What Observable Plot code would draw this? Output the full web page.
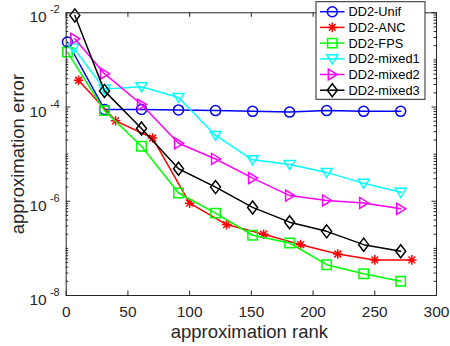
<!DOCTYPE html>
<html><head><meta charset="utf-8">
<script src="https://cdn.jsdelivr.net/npm/d3@7"></script>
<script src="https://cdn.jsdelivr.net/npm/@observablehq/plot@0.6"></script>
<style>
html,body{margin:0;padding:0;background:#fff;}
#chart{width:450px;height:346px;}
</style></head><body><div id="chart"></div>
<script>
const seriesNames = ["DD2-Unif","DD2-ANC","DD2-FPS","DD2-mixed1","DD2-mixed2","DD2-mixed3"];
const seriesColors = ["#0000ff","#ff0000","#00ff00","#00ffff","#ff00ff","#000000"];

const rankUnif = [1,31,61,91,121,151,181,211,241,271];
const errUnif  = [2.4e-3,8.9e-5,8.9e-5,8.7e-5,8.4e-5,8.1e-5,7.8e-5,8.4e-5,8.1e-5,8.1e-5];
const rankANC  = [10,40,70,100,130,160,190,220,250,280];
const errANC   = [3.7e-4,5.1e-5,2.2e-5,9.1e-7,3.2e-7,2.0e-7,1.2e-7,7.6e-8,5.7e-8,5.7e-8];
const rankFPS  = [1,31,61,91,121,151,181,211,241,271];
const errFPS   = [1.46e-3,8.4e-5,1.47e-5,1.5e-6,5.6e-7,1.9e-7,1.3e-7,4.5e-8,2.9e-8,2.0e-8];
const rankMixed1 = [6,31,61,91,121,151,181,211,241,271];
const errMixed1  = [1.8e-3,2.4e-4,2.7e-4,1.6e-4,2.5e-5,7.6e-6,6.0e-6,4.1e-6,2.4e-6,1.55e-6];
const rankMixed2 = [7,31,61,91,121,151,181,211,241,271];
const errMixed2  = [2.8e-3,5.1e-4,1.13e-4,1.7e-5,7.9e-6,3.1e-6,1.32e-6,1.04e-6,9.2e-7,6.9e-7];
const rankMixed3 = [7,31,61,91,121,151,181,211,241,271];
const errMixed3  = [8.8e-3,2.2e-4,3.5e-5,4.9e-6,2.0e-6,7.4e-7,3.6e-7,2.3e-7,1.2e-7,8.7e-8];

const xTicks = [0,50,100,150,200,250,300];
const yMajorTicks = [1e-8,1e-6,1e-4,1e-2];
const yTickExponents = ["-8","-6","-4","-2"];
const yMinorTicks = [];
for (let e = -8; e < -2; e++) for (let m = 1; m < 10; m++) { const v = m * Math.pow(10, e); if (!yMajorTicks.some(t => Math.abs(t - v) / v < 1e-9)) yMinorTicks.push(v); }

const K = s => Math.sqrt(s / Math.PI);
const poly = (c, pts, k) => { c.moveTo(pts[0][0]*k, pts[0][1]*k); for (let i = 1; i < pts.length; i++) c.lineTo(pts[i][0]*k, pts[i][1]*k); c.closePath(); };
const symCircle = {draw(c, s){ const r = 5*K(s); c.moveTo(r,0); c.arc(0,0,r,0,2*Math.PI); }};
const symAsterisk = {draw(c, s){ const k = K(s), r = 4.8*k, d = r*Math.SQRT1_2;
  c.moveTo(-r,0); c.lineTo(r,0); c.moveTo(0,-r); c.lineTo(0,r);
  c.moveTo(-d,-d); c.lineTo(d,d); c.moveTo(-d,d); c.lineTo(d,-d); }};
const symSquare = {draw(c, s){ poly(c, [[-4.7,-4.7],[4.7,-4.7],[4.7,4.7],[-4.7,4.7]], K(s)); }};
const symTriDown = {draw(c, s){ poly(c, [[-5.5,-4],[5.5,-4],[0,5]], K(s)); }};
const symTriRight = {draw(c, s){ poly(c, [[-4,-5.5],[-4,5.5],[5,0]], K(s)); }};
const symDiamond = {draw(c, s){ poly(c, [[0,-6.5],[5,0],[0,6.5],[-5,0]], K(s)); }};
const seriesSymbols = [symCircle, symAsterisk, symSquare, symTriDown, symTriRight, symDiamond];

const ranks = [rankUnif, rankANC, rankFPS, rankMixed1, rankMixed2, rankMixed3];
const errs = [errUnif, errANC, errFPS, errMixed1, errMixed2, errMixed3];
const series = seriesNames.map((name, i) => ({
  name, color: seriesColors[i], symbol: seriesSymbols[i],
  data: ranks[i].map((r, j) => ({rank: r, err: errs[i][j]}))
}));

const W = 450, H = 346, mL = 65.7, mR = 14, mT = 12.3, mB = 51;
const innerW = W - mL - mR, innerH = H - mT - mB;
const axisColor = "#262626";

const marks = [
  Plot.ruleX(xTicks, {x: d => d, insetTop: innerH - 4.5, stroke: axisColor}),
  Plot.ruleX(xTicks, {x: d => d, insetBottom: innerH - 4.5, stroke: axisColor}),
  Plot.ruleY(yMajorTicks, {y: d => d, insetRight: innerW - 4.5, stroke: axisColor}),
  Plot.ruleY(yMajorTicks, {y: d => d, insetLeft: innerW - 4.5, stroke: axisColor}),
  Plot.ruleY(yMinorTicks, {y: d => d, insetRight: innerW - 2.5, stroke: axisColor}),
  Plot.ruleY(yMinorTicks, {y: d => d, insetLeft: innerW - 2.5, stroke: axisColor}),
  Plot.text(xTicks, {x: d => d, frameAnchor: "bottom", lineAnchor: "top", dy: 10, text: d => String(d), fontSize: 15.5, fill: axisColor}),
  Plot.text(yMajorTicks, {y: d => d, frameAnchor: "left", textAnchor: "end", dx: -19.5, dy: 4.5, text: () => "10", fontSize: 15.5, fill: axisColor}),
  Plot.text(yMajorTicks, {y: d => d, frameAnchor: "left", textAnchor: "end", dx: -6.5, dy: -3, text: (d, i) => yTickExponents[i], fontSize: 11, fill: axisColor}),
  Plot.text(["approximation rank"], {frameAnchor: "bottom", textAnchor: "middle", text: d => d, dx: -2, dy: 42, fontSize: 18.5, fill: axisColor}),
  Plot.text(["approximation error"], {frameAnchor: "left", textAnchor: "middle", text: d => d, rotate: -90, dx: -48, fontSize: 18.5, fill: axisColor})
];
for (const s of series) {
  marks.push(Plot.line(s.data, {x: "rank", y: "err", stroke: s.color, strokeWidth: 1.5}));
  marks.push(Plot.dot(s.data, {x: "rank", y: "err", symbol: s.symbol, r: 1, stroke: s.color, fill: "none", strokeWidth: 1.5}));
}
marks.push(Plot.frame({stroke: axisColor, strokeWidth: 1}));

const chart = Plot.plot({
  width: W, height: H,
  marginLeft: mL, marginRight: mR, marginTop: mT, marginBottom: mB,
  style: {fontFamily: "'Liberation Sans', Arial, Helvetica, sans-serif", background: "#fff", overflow: "visible"},
  x: {type: "linear", domain: [0, 300], axis: null},
  y: {type: "log", domain: [1e-8, 1e-2], axis: null},
  marks
});
document.getElementById("chart").appendChild(chart);

// legend
const svg = d3.select(chart);
const lg = svg.append("g").attr("font-family", "'Liberation Sans', Arial, sans-serif").attr("text-anchor", "start");
const box = {x: 316, y: 1.7, w: 109, h: 97.6};
lg.append("rect").attr("x", box.x).attr("y", box.y).attr("width", box.w).attr("height", box.h)
  .attr("fill", "#fff").attr("stroke", axisColor).attr("stroke-width", 1);
series.forEach((s, i) => {
  const cy = 11.7 + i * 15.7;
  const row = lg.append("g");
  row.append("line").attr("x1", 320).attr("x2", 344.5).attr("y1", cy).attr("y2", cy)
    .attr("stroke", s.color).attr("stroke-width", 1.5);
  row.append("path").attr("d", d3.symbol(s.symbol, Math.PI)()).attr("transform", `translate(332.3,${cy})`)
    .attr("fill", "none").attr("stroke", s.color).attr("stroke-width", 1.5);
  row.append("text").attr("x", 348.5).attr("y", cy).attr("dy", "0.35em").attr("font-size", 12.8)
    .attr("text-anchor", "start").attr("fill", "#000").text(s.name);
});
</script></body></html>
